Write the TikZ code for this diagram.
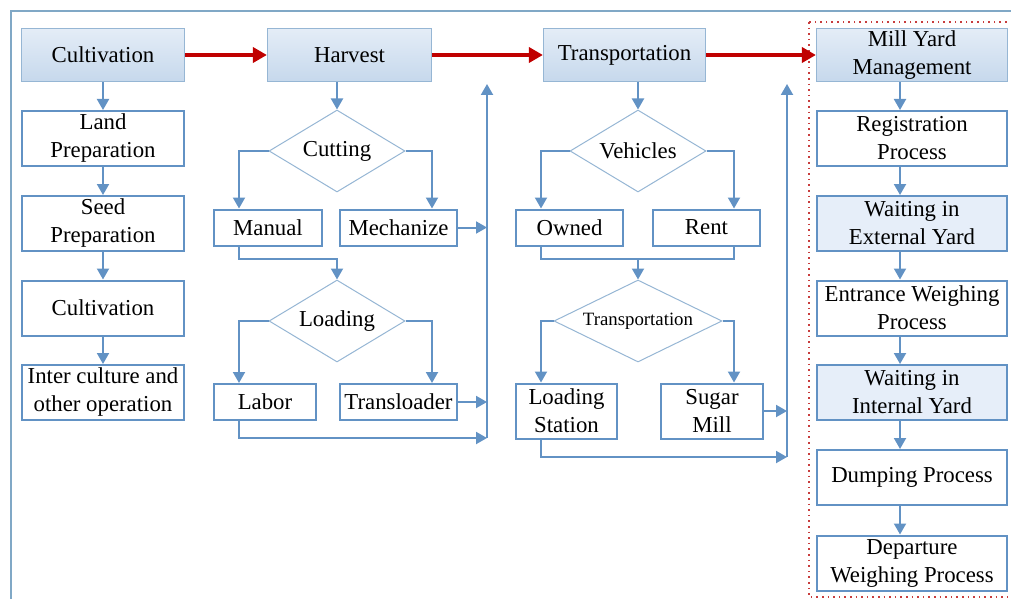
\documentclass[tikz,border=0pt]{standalone}
\usepackage{fontspec}
\setmainfont{Liberation Serif}
\usepackage{tikz}
\usetikzlibrary{shapes.geometric, arrows.meta, positioning}

\definecolor{flowblue}{RGB}{98,146,196}
\definecolor{headline}{RGB}{150,182,212}
\definecolor{headtop}{RGB}{228,237,247}
\definecolor{headbot}{RGB}{198,216,236}
\definecolor{waitfill}{RGB}{230,238,249}
\definecolor{framecol}{RGB}{128,168,198}
\definecolor{flowred}{RGB}{192,0,0}
\definecolor{dotred}{RGB}{200,60,60}

\begin{document}
\begin{tikzpicture}[
    x=0.5pt, y=-0.5pt,
    every node/.style={font=\fontsize{11.4}{14}\selectfont},
    headbox/.style={rectangle, draw=headline, line width=0.6pt, top color=headtop,
                 bottom color=headbot, minimum height=26.5pt, inner sep=0pt, align=center},
    stepbox/.style={rectangle, draw=flowblue, line width=1pt, fill=white,
                 minimum width=81pt, minimum height=27.5pt, inner sep=0pt, align=center},
    waitbox/.style={stepbox, fill=waitfill},
    wide/.style={minimum width=95pt},
    smallbox/.style={stepbox, minimum height=18pt},
    choice/.style={diamond, draw=headline, line width=0.5pt, fill=white, aspect=2,
                 inner sep=0pt, minimum width=68pt, minimum height=41pt},
    line/.style={draw=flowblue, line width=1pt},
    arr/.style={line, -{Triangle[length=5.5pt,width=6pt]}},
    mainarr/.style={draw=flowred, line width=2pt, -{Triangle[length=7pt,width=7.5pt]}}
  ]

  \clip (0,0) rectangle (1011,599);
  \draw[framecol, line width=1.4pt] (11,11) rectangle (1030,620);
  \draw[dotred, dotted, line width=0.8pt] (809,22) rectangle (1030,597);

  \node[headbox, minimum width=81.5pt] (cult) at (103,55) {Cultivation};
  \node[headbox, minimum width=82pt] (harv) at (349.5,55) {Harvest};
  \node[headbox, minimum width=81pt] (trans) at (624.5,55) {Transportation};
  \node[headbox, minimum width=95.5pt] (mill) at (912,55) {Mill Yard\\Management};

  \node[stepbox] (land) at (103,138.5) {Land\\Preparation};
  \node[stepbox] (seed) at (103,223.5) {Seed\\Preparation};
  \node[stepbox] (cultb) at (103,308) {Cultivation};
  \node[stepbox] (inter) at (103,392.5) {Inter culture and\\other operation};

  \node[choice] (cut) at (337,151) {Cutting};
  \node[smallbox, minimum width=54pt] (manual) at (268,227.5) {Manual};
  \node[smallbox, minimum width=58.5pt] (mech) at (398.5,227.5) {Mechanize};
  \node[choice] (load) at (337,321) {Loading};
  \node[smallbox, minimum width=51pt] (labor) at (265,402) {Labor};
  \node[smallbox, minimum width=58.5pt] (transl) at (398.5,402) {Transloader};

  \node[choice] (veh) at (638,151) {Vehicles};
  \node[smallbox, minimum width=53.5pt] (owned) at (569.5,227.5) {Owned};
  \node[smallbox, minimum width=53.5pt] (rent) at (706.5,227.5) {Rent};
  \node[choice, minimum width=84pt, font=\fontsize{9.4}{11}\selectfont] (tdec) at (638,321) {Transportation};
  \node[stepbox, minimum width=50.5pt] (lstat) at (566.5,411) {Loading\\Station};
  \node[stepbox, minimum width=51pt] (smill) at (712,411) {Sugar\\Mill};

  \node[stepbox, wide] (reg) at (912,138.5) {Registration\\Process};
  \node[waitbox, wide] (extyard) at (912,223.5) {Waiting in\\External Yard};
  \node[stepbox, wide] (entw) at (912,308) {Entrance Weighing\\Process};
  \node[waitbox, wide] (intyard) at (912,392.5) {Waiting in\\Internal Yard};
  \node[stepbox, wide] (dump) at (912,477.5) {Dumping Process};
  \node[stepbox, wide] (depw) at (912,563) {Departure\\Weighing Process};

  \coordinate (hl) at (239,0);
  \coordinate (hr) at (432,0);
  \coordinate (hjoin) at (337,259);
  \coordinate (hbus) at (487,84);
  \coordinate (hbot) at (487,438);
  \coordinate (tl) at (541,0);
  \coordinate (tr) at (734,0);
  \coordinate (tjoin) at (638,259);
  \coordinate (tbus) at (787,84);
  \coordinate (tbot) at (787,457);

  \draw[mainarr] (cult) -- (harv);
  \draw[mainarr] (harv) -- (trans);
  \draw[mainarr] (trans) -- (mill);

  \draw[arr] (cult) -- (land);
  \draw[arr] (land) -- (seed);
  \draw[arr] (seed) -- (cultb);
  \draw[arr] (cultb) -- (inter);

  \draw[arr] (harv.south -| cut.north) -- (cut.north);
  \draw[arr] (cut.west) -| (hl |- manual.north);
  \draw[arr] (cut.east) -| (hr |- mech.north);
  \draw[arr] (hl |- manual.south) |- (hjoin) -- (load.north);
  \draw[arr] (load.west) -| (hl |- labor.north);
  \draw[arr] (load.east) -| (hr |- transl.north);
  \draw[arr] (mech.east) -- (mech.east -| hbus);
  \draw[arr] (transl.east) -- (transl.east -| hbus);
  \draw[arr] (hl |- labor.south) |- (hbot);
  \draw[arr] (hbot) -- (hbus);

  \draw[arr] (trans.south -| veh.north) -- (veh.north);
  \draw[arr] (veh.west) -| (tl |- owned.north);
  \draw[arr] (veh.east) -| (tr |- rent.north);
  \draw[line] (tl |- owned.south) |- (tjoin) -| (tr |- rent.south);
  \draw[arr] (tjoin) -- (tdec.north);
  \draw[arr] (tdec.west) -| (tl |- lstat.north);
  \draw[arr] (tdec.east) -| (tr |- smill.north);
  \draw[arr] (smill.east) -- (smill.east -| tbus);
  \draw[arr] (tl |- lstat.south) |- (tbot);
  \draw[arr] (tbot) -- (tbus);

  \draw[arr] ([xshift=-6pt]mill.south) -- ([xshift=-6pt]reg.north);
  \draw[arr] ([xshift=-6pt]reg.south) -- ([xshift=-6pt]extyard.north);
  \draw[arr] ([xshift=-6pt]extyard.south) -- ([xshift=-6pt]entw.north);
  \draw[arr] ([xshift=-6pt]entw.south) -- ([xshift=-6pt]intyard.north);
  \draw[arr] ([xshift=-6pt]intyard.south) -- ([xshift=-6pt]dump.north);
  \draw[arr] ([xshift=-6pt]dump.south) -- ([xshift=-6pt]depw.north);

\end{tikzpicture}
\end{document}
